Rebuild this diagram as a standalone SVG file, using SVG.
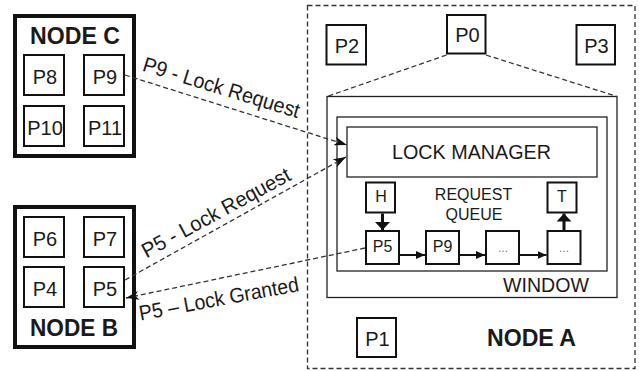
<svg xmlns="http://www.w3.org/2000/svg" width="639" height="371" viewBox="0 0 639 371">
  <style>
    text { font-family: "Liberation Sans", Arial, sans-serif; fill: #1a1a1a; }
    .node { fill: #fff; stroke: #111; stroke-width: 4; }
    .proc { fill: #fff; stroke: #111; stroke-width: 2; }
    .plabel { font-size: 20px; text-anchor: middle; }
    .qlabel { font-size: 16px; text-anchor: middle; }
    .title { font-size: 23px; font-weight: bold; text-anchor: middle; }
    .frame { fill: none; stroke: #222; stroke-width: 1.3; }
    .dash { fill: none; stroke: #333; stroke-width: 1.3; stroke-dasharray: 5 3; }
    .link { fill: none; stroke: #111; stroke-width: 2; }
    .ptr { fill: none; stroke: #111; stroke-width: 3; }
    .clabel { font-size: 21px; }
    .dots { font-size: 12px; fill: #777; text-anchor: middle; }
  </style>
  <defs>
    <marker id="stealth" markerUnits="userSpaceOnUse" viewBox="0 0 13 9" refX="13" refY="4.5" markerWidth="13" markerHeight="9" orient="auto">
      <path d="M0,0 L13,4.5 L0,9 L3.5,4.5 z" fill="#111"/>
    </marker>
    <marker id="tri" markerUnits="userSpaceOnUse" viewBox="0 0 9 8" refX="9" refY="4" markerWidth="9" markerHeight="8" orient="auto">
      <path d="M0,0 L9,4 L0,8 z" fill="#111"/>
    </marker>
    <marker id="bigtri" markerUnits="userSpaceOnUse" viewBox="0 0 8 15" refX="8" refY="7.5" markerWidth="8" markerHeight="15" orient="auto">
      <path d="M0,0 L8,7.5 L0,15 z" fill="#111"/>
    </marker>
  </defs>

  <!-- Node A: dashed enclosure with its processes and the lock manager window -->
  <g id="node-a">
    <rect x="307.5" y="5.5" width="327.5" height="363" fill="none" stroke="#333" stroke-width="1.3" stroke-dasharray="5 3"/>
    <text class="title" x="531.5" y="346" textLength="89" lengthAdjust="spacingAndGlyphs">NODE A</text>
  </g>
  <g id="p0">
    <rect class="proc" x="447" y="15" width="38.5" height="38.5"/>
    <text class="plabel" x="467.5" y="42">P0</text>
  </g>
  <g id="p1">
    <rect class="proc" x="357" y="318" width="39" height="39"/>
    <text class="plabel" x="377.5" y="345.5">P1</text>
  </g>
  <g id="p2">
    <rect class="proc" x="326.5" y="25" width="39.5" height="39.5"/>
    <text class="plabel" x="347" y="53">P2</text>
  </g>
  <g id="p3">
    <rect class="proc" x="576.5" y="25" width="38.5" height="39.5"/>
    <text class="plabel" x="596.5" y="53">P3</text>
  </g>

  <g id="window">
    <rect class="frame" x="327" y="96.5" width="290" height="201"/>
    <rect class="frame" x="337" y="117" width="270" height="154"/>
    <text x="546" y="292" font-size="20" text-anchor="middle" textLength="86" lengthAdjust="spacingAndGlyphs" fill="#2a2a2a">WINDOW</text>
  </g>
  <g id="lock-manager">
    <rect class="frame" x="347" y="127" width="250" height="50" fill="#fff"/>
    <text x="471.5" y="158.5" font-size="21" text-anchor="middle" textLength="159" lengthAdjust="spacingAndGlyphs" fill="#2a2a2a">LOCK MANAGER</text>
  </g>

  <!-- Request queue -->
  <text class="qlabel" x="473.5" y="200" fill="#2a2a2a">REQUEST</text>
  <text class="qlabel" x="474" y="220" fill="#2a2a2a">QUEUE</text>
  <g id="q-head">
    <rect class="proc" x="366" y="182.5" width="29" height="30"/>
    <text class="qlabel" x="381" y="202">H</text>
  </g>
  <g id="q-tail">
    <rect class="proc" x="547.5" y="182.5" width="29" height="30"/>
    <text class="qlabel" x="562" y="202">T</text>
  </g>
  <g id="q-p5">
    <rect class="proc" x="366" y="231" width="33" height="33"/>
    <text class="qlabel" x="382.5" y="252">P5</text>
  </g>
  <g id="q-p9">
    <rect class="proc" x="426" y="231" width="33" height="33"/>
    <text class="qlabel" x="442.5" y="252">P9</text>
  </g>
  <g id="q-3">
    <rect class="proc" x="486" y="231" width="33" height="33"/>
    <text class="dots" x="503" y="252">...</text>
  </g>
  <g id="q-4">
    <rect class="proc" x="547.5" y="231" width="33" height="33"/>
    <text class="dots" x="564" y="252">...</text>
  </g>

  <!-- Node C -->
  <g id="node-c">
    <rect class="node" x="15" y="16" width="119" height="140"/>
    <text class="title" x="75" y="43.5" textLength="90" lengthAdjust="spacingAndGlyphs">NODE C</text>
  </g>
  <g id="p8">
    <rect class="proc" x="24" y="55" width="40" height="40"/>
    <text class="plabel" x="45" y="84">P8</text>
  </g>
  <g id="p9">
    <rect class="proc" x="84" y="55" width="40" height="40"/>
    <text class="plabel" x="105" y="84">P9</text>
  </g>
  <g id="p10">
    <rect class="proc" x="24" y="106" width="40" height="40"/>
    <text class="plabel" x="45" y="135">P10</text>
  </g>
  <g id="p11">
    <rect class="proc" x="84" y="106" width="40" height="40"/>
    <text class="plabel" x="105" y="135">P11</text>
  </g>

  <!-- Node B -->
  <g id="node-b">
    <rect class="node" x="15" y="207" width="119" height="140"/>
    <text class="title" x="74" y="336" textLength="88" lengthAdjust="spacingAndGlyphs">NODE B</text>
  </g>
  <g id="p6">
    <rect class="proc" x="24" y="217" width="40" height="40"/>
    <text class="plabel" x="45" y="246">P6</text>
  </g>
  <g id="p7">
    <rect class="proc" x="84" y="217" width="40" height="40"/>
    <text class="plabel" x="105" y="246">P7</text>
  </g>
  <g id="p4">
    <rect class="proc" x="24" y="267" width="40" height="40"/>
    <text class="plabel" x="45" y="296">P4</text>
  </g>
  <g id="p5">
    <rect class="proc" x="84" y="267" width="40" height="40"/>
    <text class="plabel" x="105" y="296">P5</text>
  </g>

  <!-- Connectors -->
  <g id="connectors">
    <line class="dash" x1="446.5" y1="55" x2="327" y2="96.5"/>
    <line class="dash" x1="486" y1="55" x2="617" y2="96.5"/>

    <line class="dash" x1="125" y1="75" x2="347" y2="145" marker-end="url(#stealth)"/>
    <line class="dash" x1="125" y1="280" x2="346" y2="157" marker-end="url(#stealth)"/>
    <line class="dash" x1="365" y1="248" x2="126" y2="298" marker-end="url(#stealth)"/>

    <line class="ptr" x1="382.5" y1="213.5" x2="382.5" y2="230" marker-end="url(#bigtri)"/>
    <line class="ptr" x1="564" y1="230" x2="564" y2="213.5" marker-end="url(#bigtri)"/>

    <line class="link" x1="399" y1="255" x2="425" y2="255" marker-end="url(#tri)"/>
    <line class="link" x1="459" y1="255" x2="485" y2="255" marker-end="url(#tri)"/>
    <line class="link" x1="519" y1="255" x2="546.5" y2="255" marker-end="url(#tri)"/>

    <text class="clabel" transform="translate(141.5,70.5) rotate(17)" textLength="163" lengthAdjust="spacingAndGlyphs">P9 - Lock Request</text>
    <text class="clabel" transform="translate(146.5,258.5) rotate(-28.5)" textLength="166" lengthAdjust="spacingAndGlyphs">P5 - Lock Request</text>
    <text class="clabel" transform="translate(140.5,320.5) rotate(-10.5)" textLength="162" lengthAdjust="spacingAndGlyphs">P5 – Lock Granted</text>
  </g>
</svg>
